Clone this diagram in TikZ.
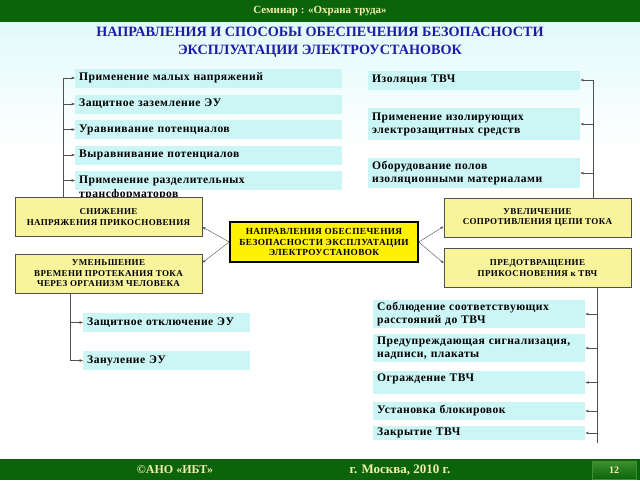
\documentclass[tikz,border=0pt]{standalone}
\usepackage{fontspec}
\setmainfont{Liberation Serif}
\newfontfamily\boxfont[LetterSpace=4]{Liberation Serif}
\usetikzlibrary{arrows.meta}
\definecolor{bargreen}{HTML}{0B640B}
\definecolor{barlight}{HTML}{3E8F2E}
\definecolor{paleyellow}{HTML}{F2F0A8}
\definecolor{titleblue}{HTML}{1C1CA6}
\definecolor{bgcyan}{HTML}{E2FAFA}
\definecolor{itemcyan}{HTML}{CCF6F6}
\definecolor{dirlight}{HTML}{F8F49C}
\definecolor{boxgray}{HTML}{505050}
\begin{document}
\begin{tikzpicture}[x=1pt,y=-1pt,
    item/.style={fill=itemcyan,anchor=west,minimum height=19pt,text width=#1,inner xsep=4pt,inner ysep=1pt,align=left,font=\boxfont\bfseries\fontsize{11.6}{13}\selectfont},
    item/.default=259pt,
    dirbox/.style={draw=boxgray,thick,fill=dirlight,minimum width=187pt,minimum height=39pt,inner sep=1pt,align=center,font=\boxfont\bfseries\fontsize{9}{10.5}\selectfont},
    mainbox/.style={draw=black,line width=1.5pt,fill=yellow,minimum width=188pt,minimum height=40pt,inner sep=1pt,align=center,font=\boxfont\bfseries\fontsize{9.3}{10.8}\selectfont},
    link/.style={draw=boxgray,thin},
    arr/.style={link,-{Stealth[length=3.5pt,width=2.5pt]}}]
        %% Background
        \fill[white] (0,0) rectangle (640,480);
        \shade[top color=bgcyan,bottom color=white] (0,22) rectangle (640,150);
        \fill[bargreen] (0,0) rectangle (640,22);
        \fill[bargreen] (0,459) rectangle (640,480);
        \node[text=paleyellow,font=\bfseries\fontsize{11}{13}\selectfont] (seminar) at (320,11) {Семинар : «Охрана труда»};
        \node[text=titleblue,align=center,font=\bfseries\fontsize{14.2}{18}\selectfont] (title) at (320,42) {НАПРАВЛЕНИЯ И СПОСОБЫ ОБЕСПЕЧЕНИЯ БЕЗОПАСНОСТИ\\ЭКСПЛУАТАЦИИ ЭЛЕКТРОУСТАНОВОК};
        %% Footer
        \node[text=paleyellow,font=\bfseries\fontsize{12}{14}\selectfont] (ano) at (175,470) {©АНО «ИБТ»};
        \node[text=paleyellow,font=\bfseries\fontsize{13}{15}\selectfont] (city) at (400,470) {г. Москва,  2010 г.};
        \node[top color=barlight,bottom color=bargreen,draw=barlight,minimum width=44pt,minimum height=18pt,text=paleyellow,font=\bfseries\fontsize{10}{12}\selectfont] (page) at (614,470) {12};
        %% Left top list
        \node[item] (malye) at (75,78) {Применение малых напряжений};
        \node[item] (zazeml) at (75,104) {Защитное заземление ЭУ};
        \node[item] (uravn) at (75,129.5) {Уравнивание потенциалов};
        \node[item] (vyravn) at (75,155) {Выравнивание потенциалов};
        \node[item,text depth=2pt,font=\boxfont\bfseries\fontsize{11.6}{14.5}\selectfont] (razdel) at (75,180.5) {Применение разделительных\\трансформаторов};
        %% Right top list
        \node[item=204pt] (izol) at (368,80) {Изоляция ТВЧ};
        \node[item=204pt,minimum height=32pt] (sredstva) at (368,124) {Применение изолирующих\\электрозащитных средств};
        \node[item=204pt,minimum height=30pt] (poly) at (368,173) {Оборудование полов\\изоляционными материалами};
        %% Direction boxes
        \node[dirbox] (snizh) at (108.5,217) {СНИЖЕНИЕ\\НАПРЯЖЕНИЯ ПРИКОСНОВЕНИЯ};
        \node[dirbox] (umensh) at (108.5,273.5) {УМЕНЬШЕНИЕ\\ВРЕМЕНИ ПРОТЕКАНИЯ ТОКА\\ЧЕРЕЗ ОРГАНИЗМ ЧЕЛОВЕКА};
        \node[dirbox] (uvel) at (537.5,217.5) {УВЕЛИЧЕНИЕ\\СОПРОТИВЛЕНИЯ ЦЕПИ ТОКА};
        \node[dirbox] (predotvr) at (537.5,268) {ПРЕДОТВРАЩЕНИЕ\\ПРИКОСНОВЕНИЯ к ТВЧ};
        \node[mainbox] (main) at (324,242) {НАПРАВЛЕНИЯ ОБЕСПЕЧЕНИЯ\\БЕЗОПАСНОСТИ ЭКСПЛУАТАЦИИ\\ЭЛЕКТРОУСТАНОВОК};
        %% Left bottom list
        \node[item=159pt] (otkl) at (83,322.5) {Защитное отключение ЭУ};
        \node[item=159pt] (zanul) at (83,360.5) {Зануление ЭУ};
        %% Right bottom list
        \node[item=204pt,minimum height=28pt] (rasst) at (373,314) {Соблюдение соответствующих\\расстояний до ТВЧ};
        \node[item=204pt,minimum height=28pt] (signal) at (373,348) {Предупреждающая сигнализация,\\надписи, плакаты};
        \node[item=204pt,minimum height=23pt,text depth=9pt] (ograzh) at (373,382.5) {Ограждение ТВЧ};
        \node[item=204pt,minimum height=18pt] (blok) at (373,411) {Установка блокировок};
        \node[item=204pt,minimum height=14pt] (zakr) at (373,433) {Закрытие ТВЧ};
        %% Spines
        \coordinate (ls) at (63,0);
        \coordinate (lb) at (70,0);
        \coordinate (rs) at (593,0);
        \coordinate (rb) at (597,0);
        \coordinate (rbend) at (597,443);
        \draw[link] (malye.west -| ls) -- (snizh.north -| ls);
        \foreach \n in {malye,zazeml,uravn,vyravn,razdel}
            \draw[arr] (\n.west -| ls) -- (\n.west);
        \draw[link] (umensh.south -| lb) -- (zanul.west -| lb);
        \foreach \n in {otkl,zanul}
            \draw[arr] (\n.west -| lb) -- (\n.west);
        \draw[link] (izol.east -| rs) -- (uvel.north -| rs);
        \foreach \n in {izol,sredstva,poly}
            \draw[arr] (\n.east -| rs) -- (\n.east);
        \draw[link] (predotvr.south -| rb) -- (rbend);
        \foreach \n in {rasst,signal,ograzh,blok,zakr}
            \draw[arr] (\n.east -| rb) -- (\n.east);
        %% Main arrows
        \draw[arr] (main.west) -- ([yshift=-10pt]snizh.east);
        \draw[arr] (main.west) -- ([yshift=-9pt]umensh.north east);
        \draw[arr] (main.east) -- ([yshift=-9pt]uvel.west);
        \draw[arr] (main.east) -- ([yshift=-15pt]predotvr.north west);
\end{tikzpicture}
\end{document}
